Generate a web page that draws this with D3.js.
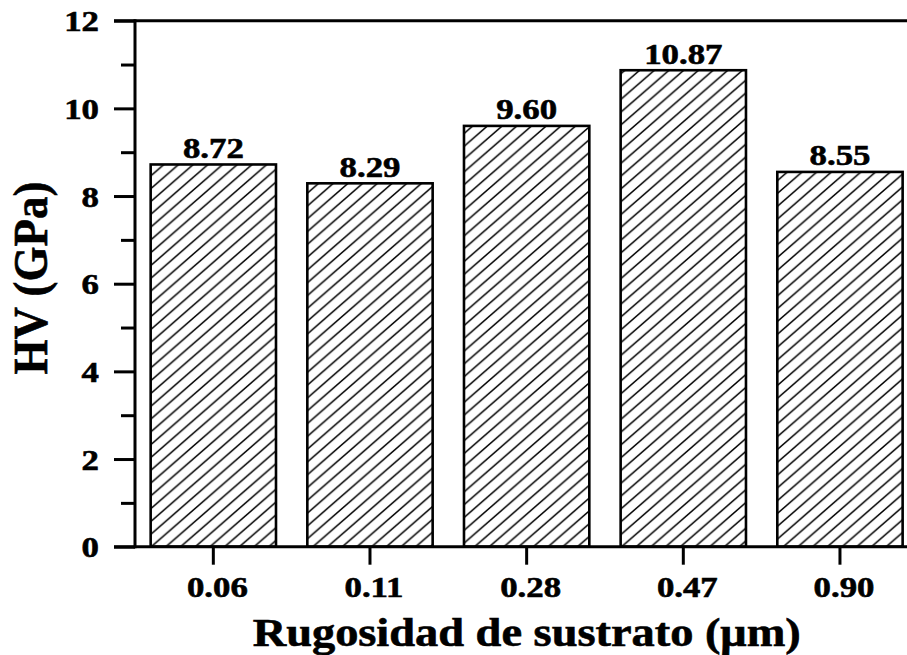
<!DOCTYPE html>
<html lang="en">
<head>
<meta charset="utf-8">
<title>HV vs Rugosidad</title>
<script src="https://d3js.org/d3.v7.min.js"></script>
<style>
  body { margin: 0; background: white; }
  text { font-family: "Liberation Serif", "Times New Roman", serif; font-weight: bold; fill: black; stroke: black; stroke-width: 0.6px; }
</style>
</head>
<body>
<script>
// data
var categories = ["0.06", "0.11", "0.28", "0.47", "0.90"];
var hvValues = [8.72, 8.29, 9.60, 10.87, 8.55];
var valueLabels = ["8.72", "8.29", "9.60", "10.87", "8.55"];
var yTicks = [0, 2, 4, 6, 8, 10, 12];
var yMinorTicks = [1, 3, 5, 7, 9, 11];

var W = 907, H = 655;
var stretch = 1.16; // the figure is stretched a bit horizontally

var svg = d3.select("body").append("svg")
    .attr("width", W)
    .attr("height", H);

var x = d3.scaleBand()
    .domain(categories)
    .range([135, 918.3])
    .paddingInner(0.2)
    .paddingOuter(0.1);

var y = d3.scaleLinear()
    .domain([0, 12])
    .range([546.7, 20.7]);

// hatch pattern
var pw = 14.7, ph = 12.8;
var defs = svg.append("defs");
var pat = defs.append("pattern")
    .attr("id", "hatch")
    .attr("patternUnits", "userSpaceOnUse")
    .attr("width", pw)
    .attr("height", ph);
pat.append("rect").attr("width", pw).attr("height", ph).attr("fill", "white");
[-1, 0, 1].forEach(function(k) {
    pat.append("line")
        .attr("x1", -pw).attr("y1", (k + 2) * ph)
        .attr("x2", 2 * pw).attr("y2", (k - 1) * ph)
        .attr("stroke", "black")
        .attr("stroke-width", 1.5);
});

// bars
svg.selectAll(".bar")
    .data(hvValues)
    .enter().append("rect")
    .attr("class", "bar")
    .attr("x", function(d, i) { return x(categories[i]); })
    .attr("y", function(d) { return y(d); })
    .attr("width", x.bandwidth())
    .attr("height", function(d) { return y(0) - y(d); })
    .attr("fill", "url(#hatch)")
    .attr("stroke", "black")
    .attr("stroke-width", 2.6);

// value labels
svg.selectAll(".vlabel")
    .data(hvValues)
    .enter().append("text")
    .attr("class", "vlabel")
    .attr("text-anchor", "middle")
    .attr("font-size", 30)
    .attr("transform", function(d, i) {
        return "translate(" + (x(categories[i]) + x.bandwidth() / 2) + "," + (y(d) - 6.5) + ") scale(" + stretch + ",1)";
    })
    .text(function(d, i) { return valueLabels[i]; });

// y axis
var yAxis = d3.axisLeft(y).tickValues(yTicks).tickSize(21).tickPadding(0).tickFormat(d3.format("d"));
var gy = svg.append("g").attr("transform", "translate(135,0)").call(yAxis);
gy.select(".domain").remove();
gy.selectAll(".tick line").attr("stroke", "black").attr("stroke-width", 3);
gy.selectAll(".tick text")
    .attr("font-size", 30)
    .attr("font-family", null)
    .attr("x", null).attr("dy", null)
    .attr("transform", "translate(-36,10) scale(" + stretch + ",1)")
    .attr("text-anchor", "end");

var gyMinor = svg.append("g").attr("transform", "translate(135,0)")
    .call(d3.axisLeft(y).tickValues(yMinorTicks).tickSize(14).tickFormat(""));
gyMinor.select(".domain").remove();
gyMinor.selectAll(".tick line").attr("stroke", "black").attr("stroke-width", 3);

svg.append("line")
    .attr("x1", 135).attr("x2", 135)
    .attr("y1", y(12) - 1.5).attr("y2", y(0) + 1.5)
    .attr("stroke", "black").attr("stroke-width", 3);

// top frame line
svg.append("line")
    .attr("x1", 114).attr("x2", W)
    .attr("y1", y(12)).attr("y2", y(12))
    .attr("stroke", "black").attr("stroke-width", 3);

// x axis
var xAxis = d3.axisBottom(x).tickSize(18).tickPadding(0);
var gx = svg.append("g").attr("transform", "translate(0," + y(0) + ")").call(xAxis);
gx.select(".domain").remove();
gx.selectAll(".tick line").attr("stroke", "black").attr("stroke-width", 3);
gx.selectAll(".tick text")
    .attr("font-size", 30)
    .attr("font-family", null)
    .attr("y", null).attr("dy", null)
    .attr("transform", "translate(4,50) scale(" + stretch + ",1)");

svg.append("line")
    .attr("x1", 114).attr("x2", W)
    .attr("y1", y(0)).attr("y2", y(0))
    .attr("stroke", "black").attr("stroke-width", 3);

// axis titles
svg.append("text")
    .attr("text-anchor", "middle")
    .attr("font-size", 40)
    .attr("transform", "translate(526.7,646) scale(" + stretch + ",1)")
    .text("Rugosidad de sustrato (\u03bcm)");

svg.append("text")
    .attr("text-anchor", "middle")
    .attr("font-size", 45)
    .attr("transform", "translate(47,278) scale(1.1,1) rotate(-90)")
    .text("HV (GPa)");
</script>
</body>
</html>
